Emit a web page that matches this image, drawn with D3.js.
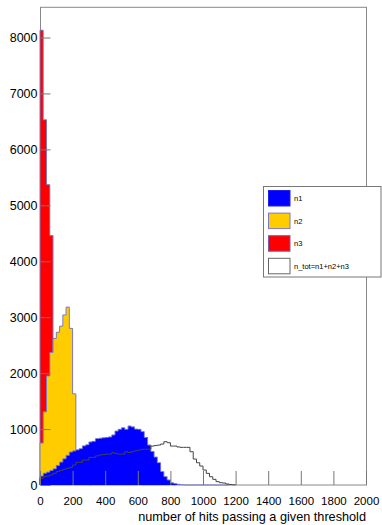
<!DOCTYPE html>
<html>
<head>
<meta charset="utf-8">
<script src="https://cdn.jsdelivr.net/npm/d3@7/dist/d3.min.js"></script>
<style>
  html, body { margin: 0; padding: 0; background: #fff; }
  svg { display: block; font-family: "Liberation Sans", Arial, Helvetica, sans-serif; }
</style>
</head>
<body>
<svg id="chart" width="382" height="525"></svg>
<script>
// Histogram range: 100 bins of 20 hits between 0 and 2000
const xRange = [0, 2000];
const binWidth = 20;

// Bin contents, starting at bin 0 (0-20 hits); later bins are empty
const n3 = [8130, 6530, 5370, 4460, 2200, 1300, 800, 500, 300, 200, 120, 70, 40, 20, 10, 5];
const n2 = [750, 1310, 1950, 2370, 2620, 2730, 2840, 3040, 3180, 2800, 1630];
const n1 = [160, 210, 230, 260, 290, 350, 410, 470, 530, 590, 610, 630, 650, 700, 720, 770, 780, 830,
            835, 845, 850, 860, 895, 965, 995, 1025, 995, 1055, 1040, 1000, 995, 955, 850, 715, 600, 500,
            400, 240, 150, 90, 40, 25, 12, 5, 2, 0, 0, 0, 0, 0, 0, 0, 0, 0, 0, 0, 0, 0];
const nTot = [120, 150, 160, 180, 210, 240, 260, 280, 300, 315, 357, 405, 405, 446, 446, 494, 494, 520,
              536, 545, 553, 553, 577, 560, 553, 553, 595, 580, 595, 613, 625, 637, 640, 640, 696, 705,
              714, 732, 774, 756, 696, 696, 680, 673, 673, 673, 595, 464, 398, 339, 268, 208, 148, 101,
              60, 41, 35, 18, 8, 3];

// Axis ticks
const yMax = 8540;
const yMajor = [0, 1000, 2000, 3000, 4000, 5000, 6000, 7000, 8000];
const xMajor = [0, 200, 400, 600, 800, 1000, 1200, 1400, 1600, 1800, 2000];
const xTitle = "number of hits passing a given threshold";

const legendItems = [
  { label: "n1", fill: "#0000ff", stroke: "#2020f0" },
  { label: "n2", fill: "#ffcc00", stroke: "#7a7ac8" },
  { label: "n3", fill: "#ff0000", stroke: "#7a5aa8" },
  { label: "n_tot=n1+n2+n3", fill: "#ffffff", stroke: "#666" }
];

const svg = d3.select("#chart");
const frame = { left: 40, right: 366, top: 7.3, bottom: 485 };

const x = d3.scaleLinear().domain(xRange).range([frame.left, frame.right]);
const y = d3.scaleLinear().domain([0, yMax]).range([frame.bottom, frame.top]);

// Frame
svg.append("rect")
  .attr("x", frame.left + 0.5).attr("y", frame.top)
  .attr("width", frame.right - frame.left).attr("height", frame.bottom - frame.top)
  .attr("fill", "#fff").attr("stroke", "#888").attr("stroke-width", 1);

// Step outline of a histogram, starting and ending on the baseline
function stepPath(vals) {
  const p = d3.path();
  p.moveTo(x(0), y(0));
  vals.forEach((v, i) => {
    p.lineTo(x(i * binWidth), y(v));
    p.lineTo(x((i + 1) * binWidth), y(v));
  });
  p.lineTo(x(vals.length * binWidth), y(0));
  return p.toString();
}

function drawHist(vals, fill, stroke) {
  const d = stepPath(vals);
  if (fill) {
    svg.append("path").attr("d", d + "Z").attr("fill", fill).attr("stroke", "none")
      .attr("shape-rendering", "crispEdges");
  }
  svg.append("path").attr("d", d).attr("fill", "none")
    .attr("stroke", stroke).attr("stroke-width", 1);
}

drawHist(n3, "#ff0000", "#7a7ac8");
drawHist(n2, "#ffcc00", "#7a7ac8");
drawHist(n1, "#0000ff", "#7a7ac8");
drawHist(nTot, null, "#444");

// Y axis: majors every 1000, minors every 200, ticks pointing into the frame
const yMinor = d3.range(0, yMax, 200).filter(v => v % 1000 !== 0);
const gy = svg.append("g").attr("transform", `translate(${frame.left + 0.5},0)`);
gy.call(d3.axisLeft(y).tickValues(yMinor).tickSizeInner(-5).tickSizeOuter(0).tickFormat(""));
gy.call(d3.axisLeft(y).tickValues(yMajor).tickSizeInner(-10).tickSizeOuter(0).tickPadding(3)
  .tickFormat(d3.format("d")));
gy.selectAll(".domain").remove();
gy.selectAll("line").attr("stroke", "#777");
gy.selectAll("text").attr("font-size", "12.5px").attr("fill", "#000")
  .attr("font-family", "Liberation Sans, Arial, sans-serif");

// X axis: majors every 200, minors every 50
const xMinor = d3.range(0, 2001, 50).filter(v => v % 200 !== 0);
const gx = svg.append("g").attr("transform", `translate(0,${frame.bottom})`);
gx.call(d3.axisBottom(x).tickValues(xMinor).tickSizeInner(-7).tickSizeOuter(0).tickFormat(""));
gx.call(d3.axisBottom(x).tickValues(xMajor).tickSizeInner(-14).tickSizeOuter(0).tickPadding(11.5)
  .tickFormat(d3.format("d")));
gx.selectAll(".domain").remove();
gx.selectAll("line").attr("stroke", "#777");
gx.selectAll("text").attr("font-size", "11.5px").attr("fill", "#000")
  .attr("font-family", "Liberation Sans, Arial, sans-serif");

// Axis title, right-aligned with the frame
svg.append("text")
  .attr("x", frame.right).attr("y", 521)
  .attr("text-anchor", "end").attr("font-size", "12.7px").attr("fill", "#000")
  .text(xTitle);

// Legend
const lg = svg.append("g");
lg.append("rect")
  .attr("x", 263.5).attr("y", 186.5).attr("width", 117.5).attr("height", 90.5)
  .attr("fill", "#fff").attr("stroke", "#777").attr("stroke-width", 1);
legendItems.forEach((it, i) => {
  const ty = 190.5 + i * 22.6;
  lg.append("rect")
    .attr("x", 268.5).attr("y", ty).attr("width", 21.5).attr("height", 15.5)
    .attr("fill", it.fill).attr("stroke", it.stroke).attr("stroke-width", 1);
  lg.append("text")
    .attr("x", 294).attr("y", ty + 7.8).attr("dy", "0.35em")
    .attr("font-size", "7.5px").attr("fill", "#000")
    .text(it.label);
});
</script>
</body>
</html>
